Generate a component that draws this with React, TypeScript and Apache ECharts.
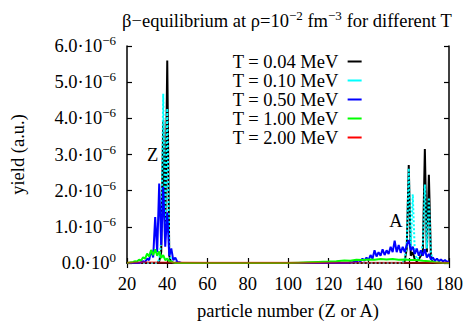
import React, { useEffect, useRef } from 'react';
import * as echarts from 'echarts';

const FONT = '"Liberation Serif", "Times New Roman", serif';

const legendNames = ['T = 0.04 MeV', 'T = 0.10 MeV', 'T = 0.50 MeV', 'T = 1.00 MeV', 'T = 2.00 MeV'];
const seriesColors = ['#000000', '#00ffff', '#0000ff', '#00ff00', '#ff0000'];

// yield values in units of 1e-6
const blackX = [20, 35, 36, 37, 38, 39, 40, 41, 42, 45, 100, 157, 158, 159, 160, 161, 162, 163, 164, 165, 166, 167, 168, 169, 170, 171, 172, 180];
const blackY = [0, 0, 0.05, 0.3, 3.95, 0.8, 5.6, 0.2, 0, 0, 0, 0, 0.05, 0.4, 2.71, 0.2, 0.3, 0.1, 0.05, 0.1, 0.2, 0.3, 3.15, 0.3, 2.44, 0.2, 0, 0];

const cyanX = [20, 35, 36, 37, 38, 39, 40, 41, 42, 45, 100, 157, 158, 159, 160, 161, 162, 163, 164, 165, 166, 167, 168, 169, 170, 171, 172, 180];
const cyanY = [0, 0, 0.1, 0.6, 4.68, 1.0, 4.27, 0.3, 0.05, 0, 0, 0, 0.1, 0.5, 2.62, 0.4, 1.9, 0.3, 0.1, 0.15, 0.3, 0.5, 2.17, 0.4, 1.81, 0.3, 0.05, 0];

const blueX = [20, 26, 27, 28, 29, 30, 31, 32, 33, 34, 35, 36, 37, 38, 39, 40, 41, 42, 43, 44, 45, 46, 47, 60, 120, 130,
  131, 132, 133, 134, 135, 136, 137, 138, 139, 140, 141, 142, 143, 144, 145, 146, 147, 148, 149, 150,
  151, 152, 153, 154, 155, 156, 157, 158, 159, 160, 161, 162, 163, 164, 165, 166, 167, 168, 169, 170,
  171, 172, 173, 174, 175, 176, 177, 178, 179, 180];
const blueY = [0, 0, 0.02, 0.05, 0.03, 0.12, 0.08, 0.35, 0.15, 1.27, 0.3, 2.2, 0.5, 2.1, 0.45, 1.4, 0.2, 0.4, 0.08, 0.15, 0.03, 0.02, 0, 0, 0, 0,
  0.02, 0.01, 0.05, 0.03, 0.08, 0.04, 0.12, 0.06, 0.15, 0.08, 0.22, 0.12, 0.35, 0.18, 0.3, 0.2, 0.38, 0.22, 0.35, 0.25,
  0.45, 0.3, 0.62, 0.3, 0.5, 0.28, 0.45, 0.3, 0.5, 0.63, 0.35, 0.45, 0.25, 0.4, 0.2, 0.35, 0.2, 0.38, 0.15, 0.25,
  0.1, 0.15, 0.06, 0.12, 0.05, 0.1, 0.04, 0.08, 0.03, 0.05];

const greenX = [20, 21, 22, 23, 24, 25, 26, 27, 28, 29, 30, 31, 32, 33, 34, 35, 36, 37, 38, 39, 40, 41, 42, 43, 44,
  100, 105, 110, 115, 120, 124, 128, 131, 134, 137, 140, 143, 146, 149, 152, 155, 158, 161, 164, 167, 170, 173, 176, 180];
const greenY = [0, 0.01, 0.02, 0.03, 0.05, 0.04, 0.09, 0.07, 0.16, 0.12, 0.26, 0.18, 0.36, 0.22, 0.38, 0.2, 0.32, 0.14, 0.22, 0.08, 0.12, 0.04, 0.05, 0.01, 0,
  0, 0.01, 0.02, 0.03, 0.04, 0.05, 0.07, 0.06, 0.09, 0.08, 0.1, 0.09, 0.11, 0.1, 0.11, 0.09, 0.1, 0.08, 0.08, 0.06, 0.05, 0.02, 0.01, 0];

const redX = [20, 30, 40, 60, 100, 140, 160, 180];
const redY = [0.01, 0.02, 0.015, 0.005, 0.005, 0.01, 0.01, 0.005];

const xMin = 20;
const xMax = 180;
const xStep = 20;
const yMin = 0;
const yMax = 6;
const yStep = 1;

const labelZ = { x: 32.7, y: 3.0, text: 'Z' };
const labelA = { x: 153.6, y: 1.16, text: 'A' };

const pairs = (xs: number[], ys: number[]) => xs.map((x, i) => [x, ys[i]]);

export default function App() {
  const ref = useRef<HTMLDivElement>(null);
  useEffect(() => {
    if (!ref.current) return;
    const chart = echarts.init(ref.current, null, { renderer: 'svg' });
    const axisLine = { show: true, lineStyle: { color: '#000', width: 1.5 } };
    const axisTick = { show: true, inside: true, length: 5, lineStyle: { color: '#000', width: 1.2 } };
    const supRich = {
      m: { fontFamily: FONT, fontSize: 18.5, lineHeight: 24, color: '#000' },
      s: { fontFamily: FONT, fontSize: 13, lineHeight: 8, verticalAlign: 'top', color: '#000' },
    };
    const datasets = [pairs(blackX, blackY), pairs(cyanX, cyanY), pairs(blueX, blueY), pairs(greenX, greenY), pairs(redX, redY)];
    const series: any[] = datasets.map((d, i) => ({
      type: 'line',
      name: legendNames[i],
      data: d,
      symbol: 'none',
      showSymbol: false,
      z: 2 + i,
      lineStyle: {
        color: seriesColors[i],
        width: 2,
        type: i === 1 ? [2, 2] : 'solid',
        opacity: i === 4 ? 0.55 : 1,
      },
      itemStyle: { color: seriesColors[i] },
    }));
    series[0].markPoint = {
      symbol: 'circle',
      symbolSize: 0,
      silent: true,
      label: { show: true, position: 'inside', formatter: '{b}', fontFamily: FONT, fontSize: 18.5, color: '#000' },
      data: [
        { name: labelZ.text, coord: [labelZ.x, labelZ.y] },
        { name: labelA.text, coord: [labelA.x, labelA.y] },
      ],
    };
    chart.setOption({
      animation: false,
      backgroundColor: '#fff',
      grid: { left: 126, right: 20, top: 46, bottom: 56, containLabel: false },
      graphic: [
        {
          type: 'text',
          x: 287,
          y: 21,
          style: {
            text: '{t|β−equilibrium at ρ=10}{s|−2}{t| fm}{s|−3}{t| for different T}',
            align: 'center',
            verticalAlign: 'middle',
            rich: {
              t: { font: '18.5px "Liberation Serif"', fontFamily: FONT, fontSize: 18.5, lineHeight: 24, fill: '#000' },
              s: { font: '13px "Liberation Serif"', fontFamily: FONT, fontSize: 13, lineHeight: 8, verticalAlign: 'top', fill: '#000' },
            },
          },
        },
      ],
      legend: {
        orient: 'vertical',
        left: 232,
        top: 52,
        padding: 0,
        align: 'right',
        icon: 'rect',
        itemWidth: 14,
        itemHeight: 2,
        itemGap: 0,
        formatter: (n: string) => n + ' ',
        textStyle: { fontFamily: FONT, fontSize: 18.5, lineHeight: 18.6, color: '#000' },
        data: legendNames.map((n, i) => ({
          name: n,
          icon: 'rect',
          itemStyle: { color: seriesColors[i], opacity: 1, borderWidth: 0 },
        })),
      },
      xAxis: [
        {
          type: 'value',
          position: 'bottom',
          min: xMin,
          max: xMax,
          interval: xStep,
          axisLine,
          axisTick,
          splitLine: { show: false },
          axisLabel: { fontFamily: FONT, fontSize: 18.5, color: '#000', margin: 11 },
          name: 'particle number (Z or A)',
          nameLocation: 'middle',
          nameGap: 38,
          nameTextStyle: { fontFamily: FONT, fontSize: 18.5, color: '#000' },
        },
        {
          type: 'value',
          position: 'top',
          min: xMin,
          max: xMax,
          interval: xStep,
          axisLine,
          axisTick,
          splitLine: { show: false },
          axisLabel: { show: false },
        },
      ],
      yAxis: [
        {
          type: 'value',
          position: 'left',
          min: yMin,
          max: yMax,
          interval: yStep,
          axisLine,
          axisTick,
          splitLine: { show: false },
          axisLabel: {
            margin: 11,
            formatter: (v: number) => (v === 0 ? '{m|0.0·10}{s|0}' : `{m|${v.toFixed(1)}·10}{s|−6}`),
            rich: supRich,
          },
          name: 'yield (a.u.)',
          nameLocation: 'middle',
          nameGap: 100,
          nameRotate: 90,
          nameTextStyle: { fontFamily: FONT, fontSize: 18.5, color: '#000' },
        },
        {
          type: 'value',
          position: 'right',
          min: yMin,
          max: yMax,
          interval: yStep,
          axisLine,
          axisTick,
          splitLine: { show: false },
          axisLabel: { show: false },
        },
      ],
      series,
    });
    return () => chart.dispose();
  }, []);
  return <div ref={ref} style={{ position: 'fixed', left: 0, top: 0, width: 469, height: 325, background: '#fff' }} />;
}
